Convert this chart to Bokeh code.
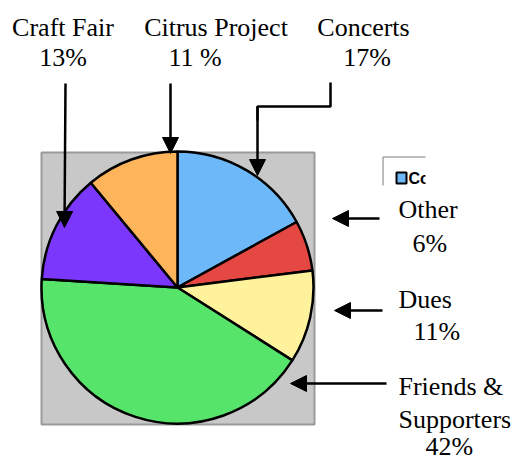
import math
from bokeh.plotting import figure
from bokeh.models import Range1d, Arrow, NormalHead, ColumnDataSource
from bokeh.core.properties import value
from bokeh.embed import file_html
from bokeh.resources import INLINE

# ---- data ----
categories = ["Concerts", "Other", "Dues", "Friends & Supporters", "Craft Fair", "Citrus Project"]
percents = [17, 6, 11, 42, 13, 11]
colors = ["#6cb8f9", "#e54843", "#fff29c", "#57e46b", "#7b37fc", "#fdb45a"]

top_lines = ["Craft Fair", "13%", "Citrus Project", "11 %", "Concerts", "17%"]
right_lines = ["Other", "6%", "Dues", "11%", "Friends &", "Supporters", "42%"]

W, H = 518, 462
TXT = 9  # baseline correction
def Y(sy):
    return H - sy

p = figure(width=W, height=H, x_range=Range1d(0, W), y_range=Range1d(0, H),
           output_backend="svg", toolbar_location=None, min_border=0)
p.axis.visible = False
p.grid.visible = False
p.outline_line_color = None
p.background_fill_color = "white"
p.border_fill_color = "white"

# grey plot area
p.quad(left=[41], right=[314], top=[Y(152)], bottom=[Y(424)],
       fill_color="#c8c8c8", line_color="#9a9a9a", line_width=2)

# pie
total = sum(percents)
starts, ends = [], []
cum = 0.0
for v in percents:
    starts.append(math.pi / 2 - 2 * math.pi * cum / total)
    cum += v
    ends.append(math.pi / 2 - 2 * math.pi * cum / total)
src = ColumnDataSource(dict(cat=categories, start=starts, end=ends, color=colors))
p.wedge(x=177, y=Y(287), radius=136, start_angle="start", end_angle="end",
        direction="clock", fill_color="color", line_color="black", line_width=2.5,
        source=src)

# clipped legend fragment
p.line([382.5, 382.5, 425], [Y(185), Y(156.5), Y(156.5)], line_color="#7a7a7a", line_width=1)
p.quad(left=[396], right=[406], top=[Y(172)], bottom=[Y(183)],
       fill_color=colors[0], line_color="black", line_width=2)
p.text(x=[408], y=[Y(183.5 - 6)], text=[categories[0][:2]], text_font=value("Liberation Sans"),
       text_font_style="bold", text_font_size="16px", text_baseline="alphabetic",
       text_align="left", text_color="black")
p.quad(left=[425], right=[445], top=[Y(160)], bottom=[Y(192)],
       fill_color="white", line_color=None)

# top labels
top_x = [62.5, 62.5, 215.5, 194.5, 363, 366.5]
top_y = [Y(s - TXT) for s in [36, 66, 36, 66, 36, 66]]
p.text(x=top_x, y=top_y, text=top_lines, text_font=value("Liberation Serif"),
       text_font_size="26px", text_align="center", text_baseline="alphabetic",
       text_color="black")

# right labels
right_x = [398, 412, 398, 413, 398, 398, 425]
right_y = [Y(s - TXT) for s in [218, 252, 308, 340, 395, 428, 455]]
p.text(x=right_x, y=right_y, text=right_lines, text_font=value("Liberation Serif"),
       text_font_size="26px", text_align="left", text_baseline="alphabetic",
       text_color="black")

def arrow(x0, y0, x1, y1):
    p.add_layout(Arrow(end=NormalHead(size=16, fill_color="black", line_color="black"),
                       x_start=x0, y_start=Y(y0), x_end=x1, y_end=Y(y1),
                       line_color="black", line_width=2.5))

# top arrows
arrow(65, 83, 64, 227)
arrow(170, 83, 170, 153)
p.line([330, 330, 257, 257], [Y(82), Y(106), Y(106), Y(120)], line_color="black", line_width=2.5)
arrow(257, 106, 257, 175)

# right arrows
arrow(379, 218, 332, 218)
arrow(382, 310, 334, 310)
arrow(386, 383, 290, 383)

open("out.html", "w").write(file_html(p, INLINE))
